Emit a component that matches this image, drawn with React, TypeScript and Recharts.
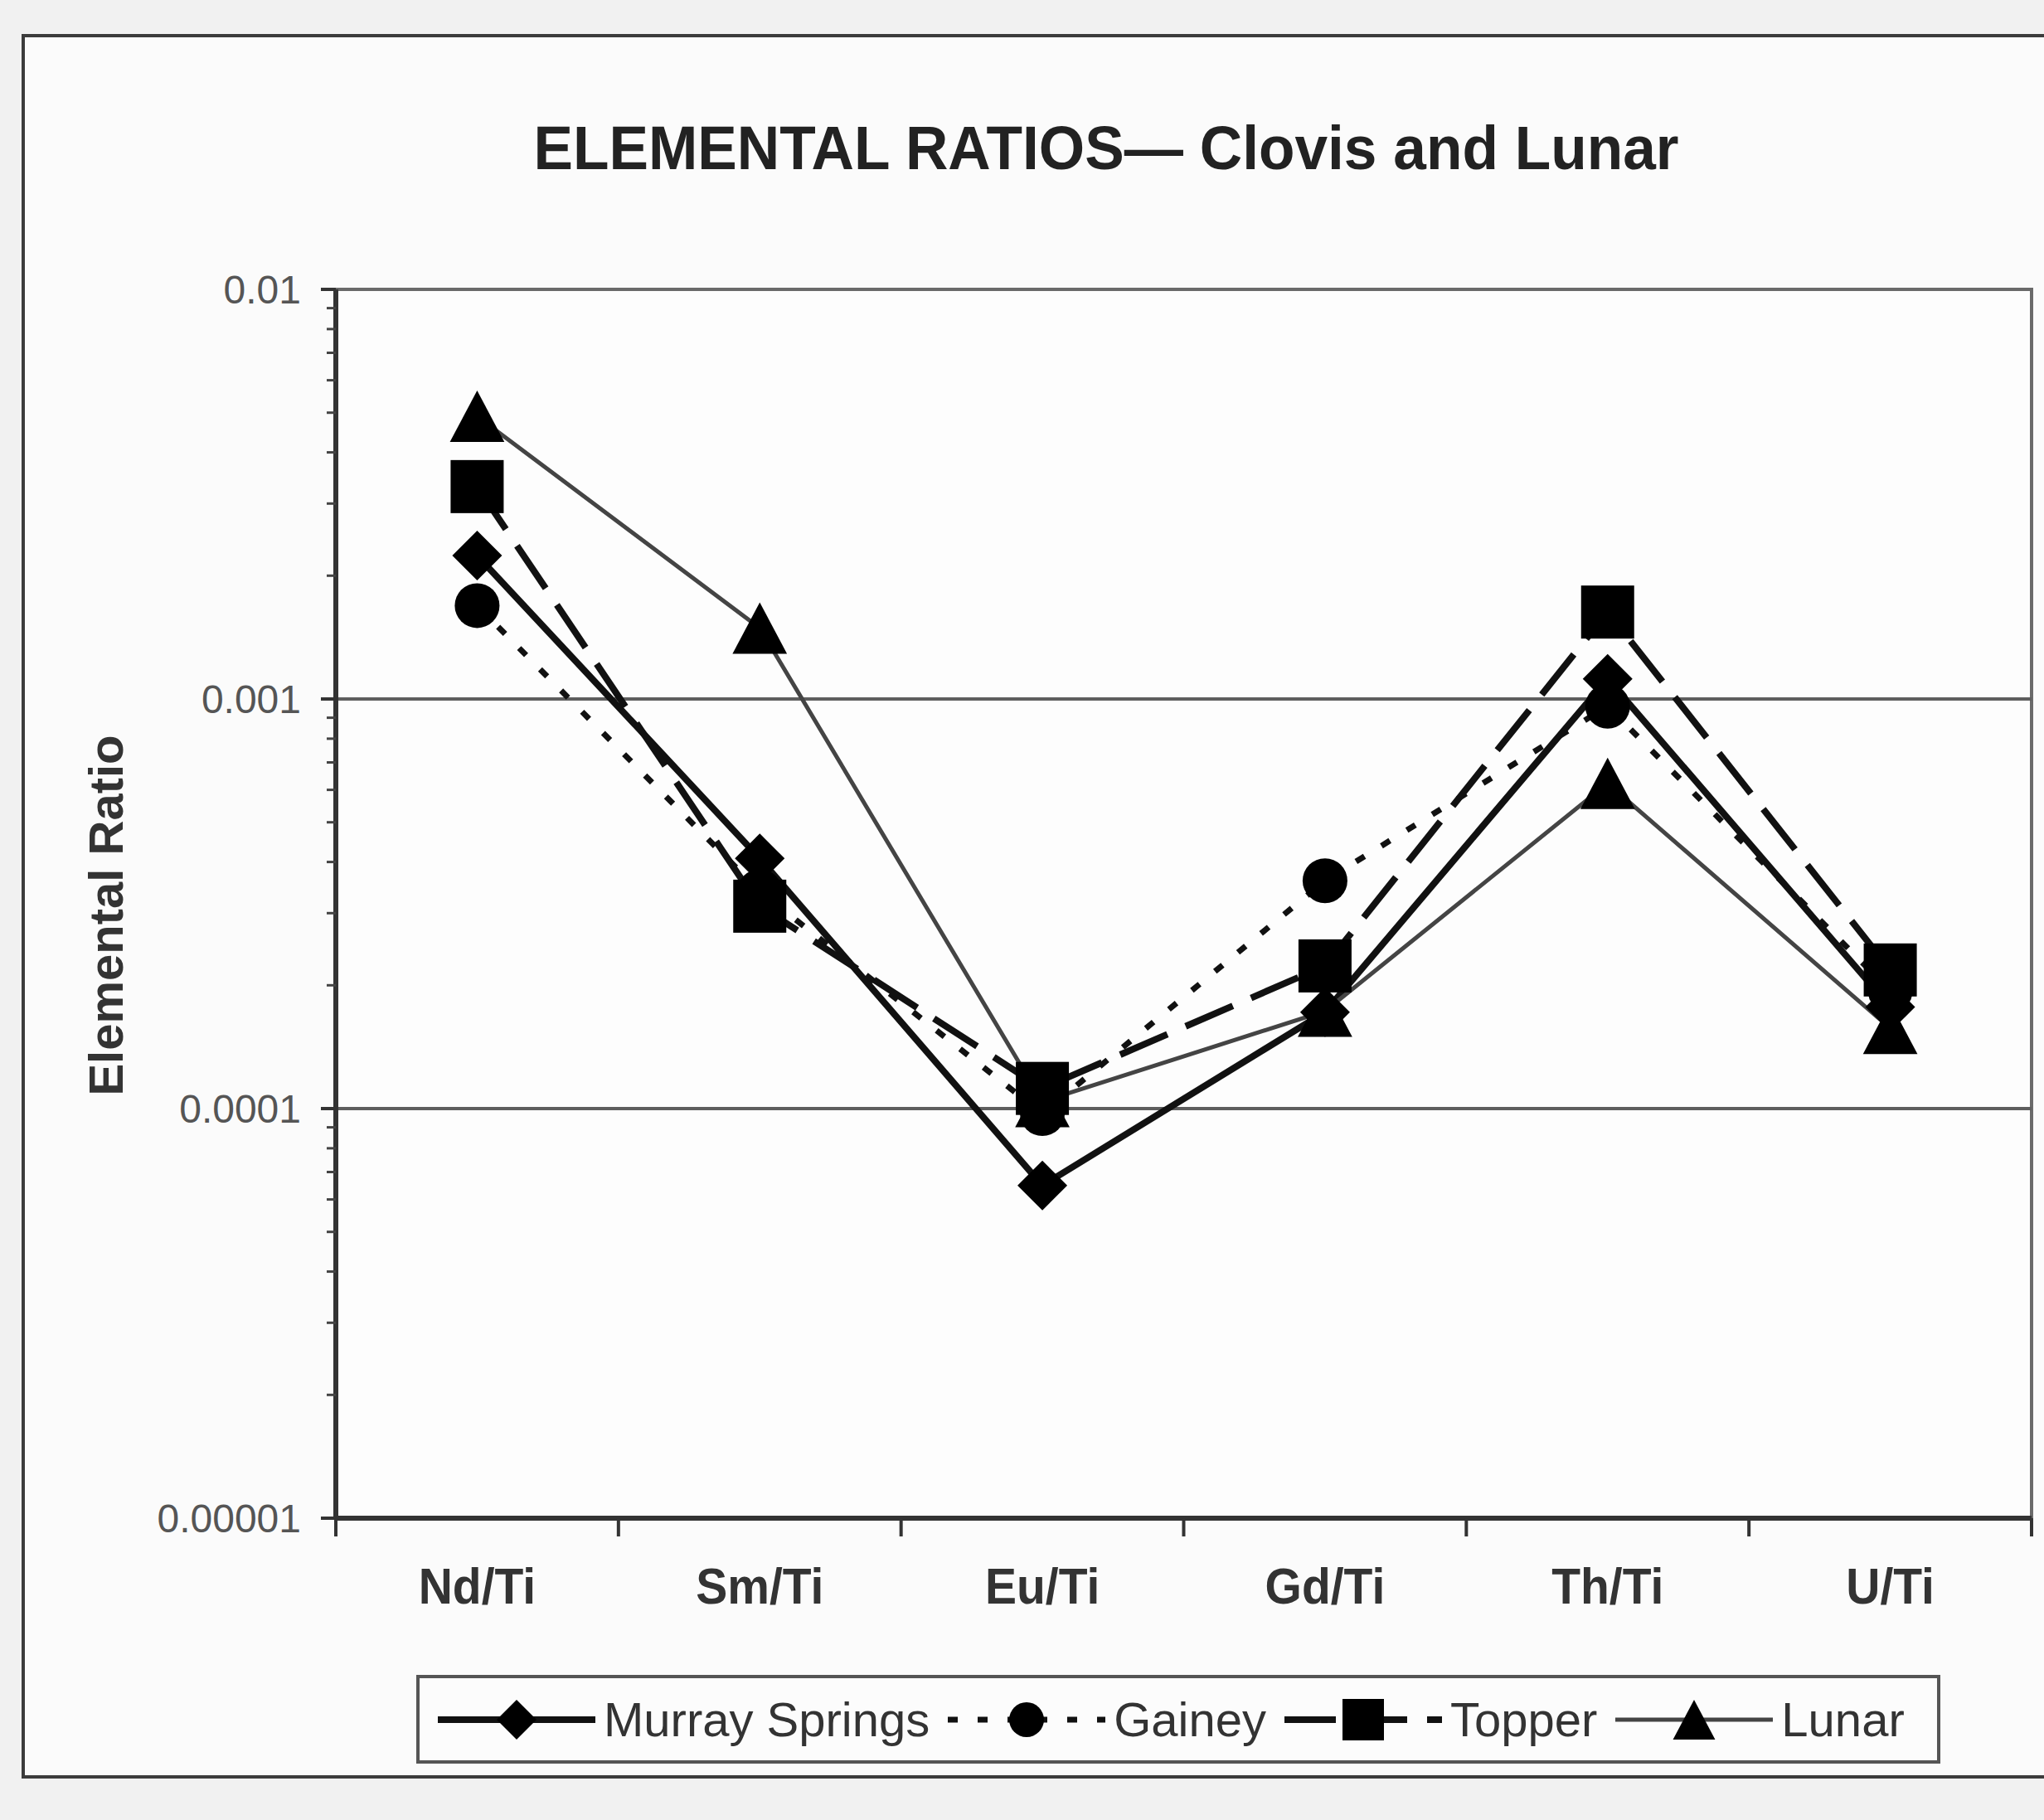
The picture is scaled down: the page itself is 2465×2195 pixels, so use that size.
import React from 'react';
import { LineChart, Line, XAxis, YAxis, ReferenceLine, ReferenceArea, Legend } from 'recharts';

// ---------- data ----------
const categories = ['Nd/Ti', 'Sm/Ti', 'Eu/Ti', 'Gd/Ti', 'Th/Ti', 'U/Ti'];
const murraySprings = [0.00224, 0.000408, 0.0000649, 0.000172, 0.00112, 0.000177];
const gainey = [0.00169, 0.000339, 0.0000972, 0.00036, 0.00096, 0.000194];
const topper = [0.0033, 0.000312, 0.000112, 0.000223, 0.00163, 0.000218];
const lunar = [0.0049, 0.00149, 0.000104, 0.000173, 0.000622, 0.000157];

const yMajorTicks = [0.00001, 0.0001, 0.001, 0.01];
const yMajorLabels = ['0.00001', '0.0001', '0.001', '0.01'];
const yMinorMultipliers = [2, 3, 4, 5, 6, 7, 8, 9];
const yGridValues = [0.0001, 0.001];

const chartTitle = 'ELEMENTAL RATIOS\u2014 Clovis and Lunar';
const yAxisTitle = 'Elemental Ratio';

type Shape = 'diamond' | 'circle' | 'square' | 'triangle';
interface SeriesCfg {
  key: string;
  name: string;
  values: number[];
  stroke: string;
  width: number;
  dash?: string;
  shape: Shape;
}

const series: SeriesCfg[] = [
  { key: 'murray', name: 'Murray Springs', values: murraySprings, stroke: '#111', width: 8, shape: 'diamond' },
  { key: 'gainey', name: 'Gainey', values: gainey, stroke: '#111', width: 7, dash: '12 24', shape: 'circle' },
  { key: 'topper', name: 'Topper', values: topper, stroke: '#111', width: 8, dash: '62 24', shape: 'square' },
  { key: 'lunar', name: 'Lunar', values: lunar, stroke: '#444', width: 5, shape: 'triangle' },
];

const data = categories.map((cat, i) => {
  const row: Record<string, number | string> = { idx: i, cat };
  series.forEach((s) => {
    row[s.key] = s.values[i];
  });
  return row;
});

const xTickValues = categories
  .flatMap((_, i) => [i - 0.5, i])
  .concat([categories.length - 0.5]);

const yTickValues: number[] = [];
yMajorTicks.forEach((d, i) => {
  yTickValues.push(d);
  if (i < yMajorTicks.length - 1) yMinorMultipliers.forEach((m) => yTickValues.push(m * d));
});

const FONT = '"Liberation Sans", Arial, Helvetica, sans-serif';

// ---------- markers ----------
function Marker({ shape, cx, cy, s }: { shape: Shape; cx: number; cy: number; s: number }) {
  const fill = '#000';
  switch (shape) {
    case 'diamond':
      return <polygon points={`${cx},${cy - s} ${cx + s},${cy} ${cx},${cy + s} ${cx - s},${cy}`} fill={fill} />;
    case 'circle':
      return <circle cx={cx} cy={cy} r={s} fill={fill} />;
    case 'square':
      return <rect x={cx - s} y={cy - s} width={2 * s} height={2 * s} fill={fill} />;
    case 'triangle':
    default:
      return (
        <polygon
          points={`${cx},${cy - s} ${cx + s * 1.06},${cy + s} ${cx - s * 1.06},${cy + s}`}
          fill={fill}
        />
      );
  }
}

const markerSize: Record<Shape, number> = { diamond: 30, circle: 27, square: 32, triangle: 31 };
const legendMarkerSize: Record<Shape, number> = { diamond: 24, circle: 21, square: 25, triangle: 24 };

// ---------- ticks ----------
const XTick = (props: any) => {
  const { x, y, payload } = props;
  const v = payload.value as number;
  if (Number.isInteger(v)) {
    return (
      <g transform={`translate(${x},${y + 103}) scale(0.92,1)`}>
        <text x={0} y={0} textAnchor="middle" fontFamily={FONT} fontSize={62} fontWeight="bold" fill="#333">
          {categories[v]}
        </text>
      </g>
    );
  }
  return <line x1={x} x2={x} y1={y} y2={y + 22} stroke="#333" strokeWidth={4} />;
};

const YTick = (props: any) => {
  const { x, y, payload } = props;
  const v = payload.value as number;
  const mi = yMajorTicks.indexOf(v);
  if (mi >= 0) {
    return (
      <g>
        <line x1={x - 18} x2={x} y1={y} y2={y} stroke="#333" strokeWidth={4} />
        <text
          x={x - 42}
          y={y}
          textAnchor="end"
          dominantBaseline="central"
          fontFamily={FONT}
          fontSize={48}
          fill="#555"
        >
          {yMajorLabels[mi]}
        </text>
      </g>
    );
  }
  return <line x1={x - 11} x2={x} y1={y} y2={y} stroke="#444" strokeWidth={3} />;
};

// ---------- legend ----------
const LegendBox = () => (
  <div
    style={{
      boxSizing: 'border-box',
      width: 1838,
      height: 107,
      border: '4px solid #555',
      background: '#fcfcfc',
      display: 'flex',
      alignItems: 'center',
      paddingLeft: 22,
      fontFamily: FONT,
    }}
  >
    {series.map((s) => (
      <div key={s.key} style={{ display: 'flex', alignItems: 'center' }}>
        <svg width={190} height={80} style={{ display: 'block' }}>
          <line
            x1={0}
            x2={190}
            y1={40}
            y2={40}
            stroke={s.stroke}
            strokeWidth={s.width}
            strokeDasharray={s.dash}
          />
          <Marker shape={s.shape} cx={95} cy={40} s={legendMarkerSize[s.shape]} />
        </svg>
        <span style={{ fontSize: 58, color: '#333', marginLeft: 10, marginRight: 22, lineHeight: 1, whiteSpace: 'nowrap' }}>
          {s.name}
        </span>
      </div>
    ))}
  </div>
);

// ---------- app ----------
export default function App() {
  return (
    <div
      style={{
        position: 'absolute',
        left: 0,
        top: 0,
        width: 2465,
        height: 2195,
        background: '#f1f1f1',
        overflow: 'hidden',
        fontFamily: FONT,
      }}
    >
      <svg width={2465} height={2195} style={{ position: 'absolute', left: 0, top: 0 }}>
        <rect x={28} y={43} width={2600} height={2100} fill="#fbfbfb" stroke="#3c3c3c" strokeWidth={4} />
        <g transform="translate(1334,204) scale(0.95,1)">
          <text x={0} y={0} textAnchor="middle" fontFamily={FONT} fontSize={75} fontWeight="bold" fill="#222">
            {chartTitle}
          </text>
        </g>
        <text
          transform="translate(127,1104) rotate(-90)"
          textAnchor="middle"
          dominantBaseline="central"
          fontFamily={FONT}
          fontSize={58}
          fontWeight="bold"
          fill="#333"
        >
          {yAxisTitle}
        </text>
      </svg>
      <div style={{ position: 'absolute', left: 0, top: 0 }}>
        <LineChart width={2465} height={2195} data={data} margin={{ top: 349, right: 15, bottom: 363, left: 404 }}>
          <ReferenceArea
            x1={-0.5}
            x2={categories.length - 0.5}
            y1={yMajorTicks[0]}
            y2={yMajorTicks[yMajorTicks.length - 1]}
            fill="#ffffff"
            fillOpacity={0.6}
            stroke="#6a6a6a"
            strokeWidth={4}
          />
          {yGridValues.map((v) => (
            <ReferenceLine key={v} y={v} stroke="#5e5e5e" strokeWidth={4} />
          ))}
          <XAxis
            type="number"
            dataKey="idx"
            domain={[-0.5, categories.length - 0.5]}
            ticks={xTickValues}
            interval={0}
            allowDecimals
            height={1}
            tickSize={0}
            tickMargin={0}
            tickLine={false}
            axisLine={{ stroke: '#333', strokeWidth: 6 }}
            tick={XTick}
          />
          <YAxis
            type="number"
            scale="log"
            domain={[yMajorTicks[0], yMajorTicks[yMajorTicks.length - 1]]}
            allowDataOverflow
            ticks={yTickValues}
            interval={0}
            width={1}
            tickSize={0}
            tickMargin={0}
            tickLine={false}
            axisLine={{ stroke: '#333', strokeWidth: 6 }}
            tick={YTick}
          />
          {series.map((s) => (
            <Line
              key={s.key}
              dataKey={s.key}
              name={s.name}
              type="linear"
              stroke={s.stroke}
              strokeWidth={s.width}
              strokeDasharray={s.dash}
              isAnimationActive={false}
              activeDot={false}
              dot={(p: any) => (
                <g key={`${s.key}-${p.index}`}>
                  <Marker shape={s.shape} cx={p.cx} cy={p.cy} s={markerSize[s.shape]} />
                </g>
              )}
            />
          ))}
          <Legend
            layout="horizontal"
            verticalAlign="middle"
            align="center"
            wrapperStyle={{ left: 502, top: 2020, width: 1838, height: 107 }}
            content={() => <LegendBox />}
          />
        </LineChart>
      </div>
    </div>
  );
}
